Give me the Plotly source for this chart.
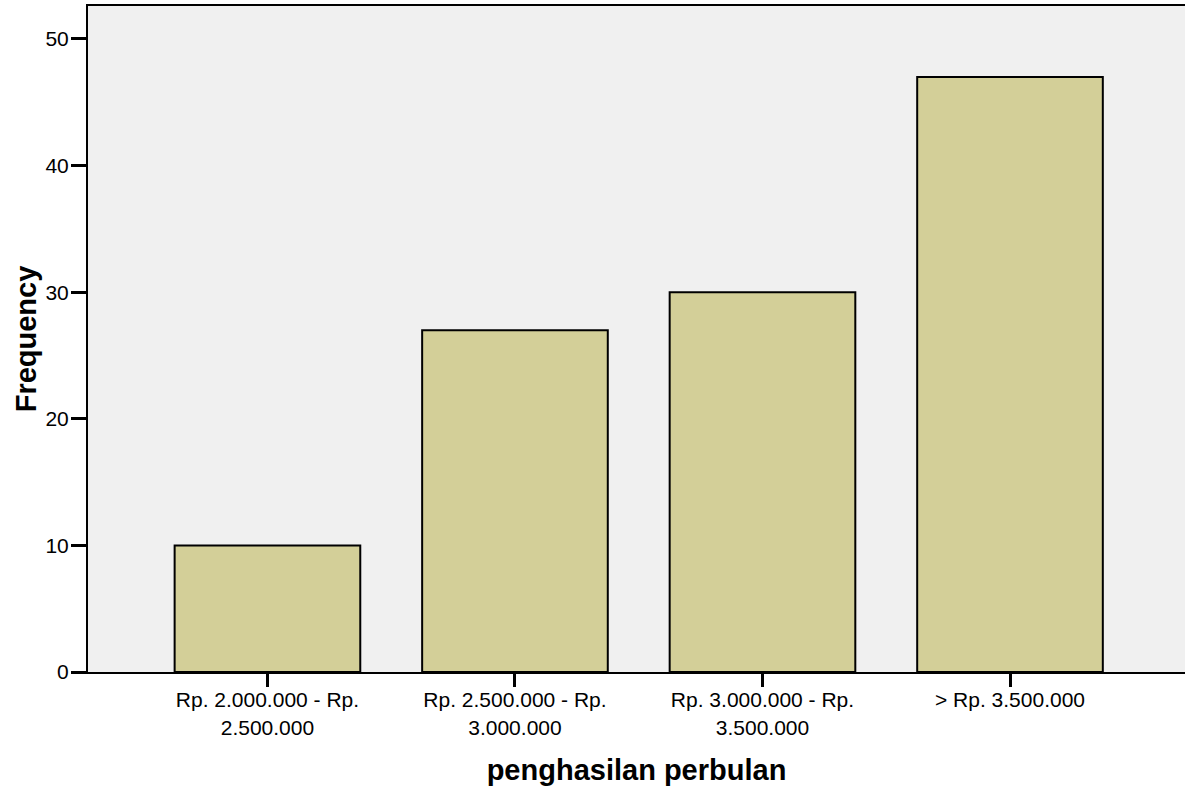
import plotly.graph_objects as go

categories = ["Rp. 2.000.000 - Rp.<br>2.500.000", "Rp. 2.500.000 - Rp.<br>3.000.000",
              "Rp. 3.000.000 - Rp.<br>3.500.000", "> Rp. 3.500.000"]
frequency = [10, 27, 30, 47]
y_ticks = [0, 10, 20, 30, 40, 50]

fig = go.Figure(go.Bar(
    x=list(range(len(categories))), y=frequency,
    marker=dict(color="#d3cf98", line=dict(color="black", width=2)),
    width=0.75,
))

font = "Liberation Sans, Arial, sans-serif"
fig.update_layout(
    width=1185, height=790,
    margin=dict(l=88, r=0, t=6, b=118),
    paper_bgcolor="white", plot_bgcolor="#f0f0f0",
    showlegend=False,
    font=dict(family=font, color="black", size=21),
    xaxis=dict(
        tickmode="array", tickvals=list(range(len(categories))), ticktext=categories,
        range=[-0.725, 3.707],
        showline=True, linecolor="black", linewidth=2, mirror=True,
        ticks="outside", ticklen=13, tickwidth=3, tickcolor="black",
        showgrid=False, zeroline=False,
        tickfont=dict(size=21), ticklabelstandoff=-5,
        title=dict(text="<b>penghasilan perbulan</b>", font=dict(size=29), standoff=22),
    ),
    yaxis=dict(
        tickmode="array", tickvals=y_ticks, range=[0, 52.6],
        showline=True, linecolor="black", linewidth=2,
        ticks="outside", ticklen=15, tickwidth=3, tickcolor="black",
        showgrid=False, zeroline=False,
        tickfont=dict(size=21), ticklabelstandoff=-2,
        title=dict(text="<b>Frequency</b>", font=dict(size=29), standoff=0),
    ),
)
fig.write_html("out.html", config={"displayModeBar": False},
               post_script="document.body.style.margin='0';document.body.style.overflow='hidden';")
